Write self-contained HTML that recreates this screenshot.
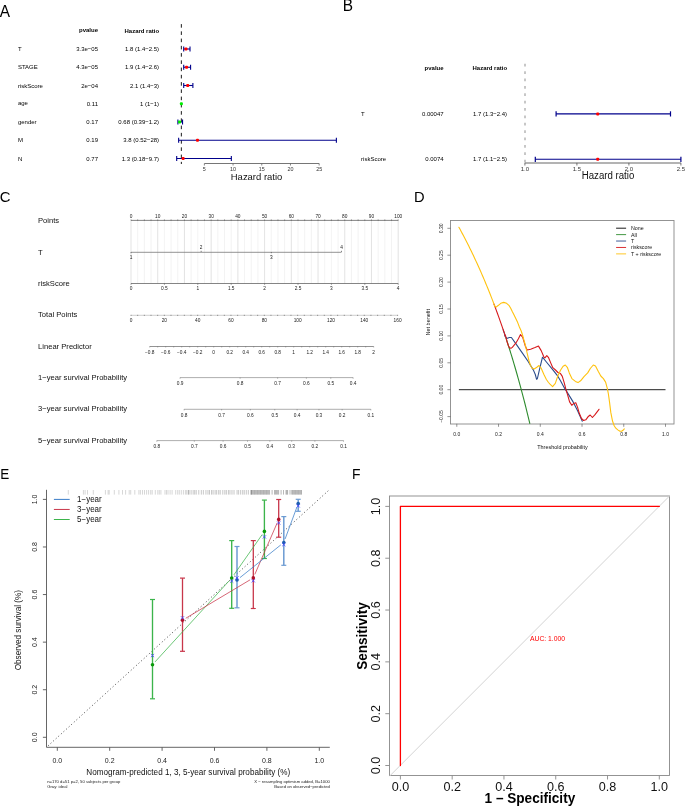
<!DOCTYPE html>
<html><head><meta charset="utf-8"><style>
html,body{margin:0;padding:0;background:#fff;}
svg{display:block;will-change:transform;font-family:"Liberation Sans",sans-serif;}
</style></head><body>
<svg width="685" height="806" viewBox="0 0 685 806">
<rect width="685" height="806" fill="#fff"/>
<text transform="translate(-0.2,16.8) scale(1,1.04)" font-size="15.4" fill="#000">A</text>
<text transform="translate(342.7,10.9) scale(1,1.04)" font-size="15.4" fill="#000">B</text>
<text transform="translate(-0.2,201.6) scale(1,1.04)" font-size="14.9" fill="#000">C</text>
<text transform="translate(413.9,201.7) scale(1,1.04)" font-size="14.7" fill="#000">D</text>
<text transform="translate(0.3,479.3) scale(1,1.04)" font-size="13.5" fill="#000">E</text>
<text transform="translate(351.9,479) scale(1,1.04)" font-size="13.9" fill="#000">F</text>
<text transform="translate(98,32.4) scale(1,1.04)" font-size="6" text-anchor="end" font-weight="bold" fill="#000">pvalue</text>
<text transform="translate(159.1,32.6) scale(1,1.04)" font-size="6" text-anchor="end" font-weight="bold" fill="#000">Hazard ratio</text>
<line x1="181.35" y1="24.1" x2="181.35" y2="164" stroke="#000" stroke-width="0.9" stroke-dasharray="3.6 3.65"/>
<text transform="translate(17.9,51.05) scale(1,1.04)" font-size="6" fill="#000">T</text>
<text transform="translate(98,51.05) scale(1,1.04)" font-size="6" text-anchor="end" fill="#000">3.3e−05</text>
<text transform="translate(159.1,51.05) scale(1,1.04)" font-size="6" text-anchor="end" fill="#000">1.8 (1.4−2.5)</text>
<line x1="183.7" y1="49" x2="190.01" y2="49" stroke="#00008B" stroke-width="1.1"/>
<line x1="183.7" y1="46.5" x2="183.7" y2="51.5" stroke="#00008B" stroke-width="1.1"/>
<line x1="190.01" y1="46.5" x2="190.01" y2="51.5" stroke="#00008B" stroke-width="1.1"/>
<rect x="184.49" y="47.5" width="3" height="3" rx="1" fill="#FF0000"/>
<text transform="translate(17.9,69.3) scale(1,1.04)" font-size="6" fill="#000">STAGE</text>
<text transform="translate(98,69.3) scale(1,1.04)" font-size="6" text-anchor="end" fill="#000">4.3e−05</text>
<text transform="translate(159.1,69.3) scale(1,1.04)" font-size="6" text-anchor="end" fill="#000">1.9 (1.4−2.6)</text>
<line x1="183.7" y1="67.25" x2="190.58" y2="67.25" stroke="#00008B" stroke-width="1.1"/>
<line x1="183.7" y1="64.75" x2="183.7" y2="69.75" stroke="#00008B" stroke-width="1.1"/>
<line x1="190.58" y1="64.75" x2="190.58" y2="69.75" stroke="#00008B" stroke-width="1.1"/>
<rect x="185.07" y="65.75" width="3" height="3" rx="1" fill="#FF0000"/>
<text transform="translate(17.9,87.55) scale(1,1.04)" font-size="6" fill="#000">riskScore</text>
<text transform="translate(98,87.55) scale(1,1.04)" font-size="6" text-anchor="end" fill="#000">2e−04</text>
<text transform="translate(159.1,87.55) scale(1,1.04)" font-size="6" text-anchor="end" fill="#000">2.1 (1.4−3)</text>
<line x1="183.7" y1="85.5" x2="192.88" y2="85.5" stroke="#00008B" stroke-width="1.1"/>
<line x1="183.7" y1="83" x2="183.7" y2="88" stroke="#00008B" stroke-width="1.1"/>
<line x1="192.88" y1="83" x2="192.88" y2="88" stroke="#00008B" stroke-width="1.1"/>
<rect x="186.21" y="84" width="3" height="3" rx="1" fill="#FF0000"/>
<text transform="translate(17.9,104.8) scale(1,1.04)" font-size="6" fill="#000">age</text>
<text transform="translate(98,105.8) scale(1,1.04)" font-size="6" text-anchor="end" fill="#000">0.11</text>
<text transform="translate(159.1,105.8) scale(1,1.04)" font-size="6" text-anchor="end" fill="#000">1 (1−1)</text>
<rect x="179.9" y="102.25" width="3" height="3" rx="1" fill="#00EE00"/>
<text transform="translate(17.9,123.55) scale(1,1.04)" font-size="6" fill="#000">gender</text>
<text transform="translate(98,124.05) scale(1,1.04)" font-size="6" text-anchor="end" fill="#000">0.17</text>
<text transform="translate(159.1,124.05) scale(1,1.04)" font-size="6" text-anchor="end" fill="#000">0.68 (0.39−1.2)</text>
<line x1="177.9" y1="122" x2="182.55" y2="122" stroke="#00008B" stroke-width="1.1"/>
<line x1="177.9" y1="119.5" x2="177.9" y2="124.5" stroke="#00008B" stroke-width="1.1"/>
<line x1="182.55" y1="119.5" x2="182.55" y2="124.5" stroke="#00008B" stroke-width="1.1"/>
<rect x="178.06" y="120.5" width="3" height="3" rx="1" fill="#00EE00"/>
<text transform="translate(17.9,142.3) scale(1,1.04)" font-size="6" fill="#000">M</text>
<text transform="translate(98,142.3) scale(1,1.04)" font-size="6" text-anchor="end" fill="#000">0.19</text>
<text transform="translate(159.1,142.3) scale(1,1.04)" font-size="6" text-anchor="end" fill="#000">3.8 (0.52−28)</text>
<line x1="178.64" y1="140.25" x2="336.38" y2="140.25" stroke="#00008B" stroke-width="1.1"/>
<line x1="178.64" y1="137.75" x2="178.64" y2="142.75" stroke="#00008B" stroke-width="1.1"/>
<line x1="336.38" y1="137.75" x2="336.38" y2="142.75" stroke="#00008B" stroke-width="1.1"/>
<rect x="195.97" y="138.75" width="3" height="3" rx="1" fill="#FF0000"/>
<text transform="translate(17.9,160.55) scale(1,1.04)" font-size="6" fill="#000">N</text>
<text transform="translate(98,160.55) scale(1,1.04)" font-size="6" text-anchor="end" fill="#000">0.77</text>
<text transform="translate(159.1,160.55) scale(1,1.04)" font-size="6" text-anchor="end" fill="#000">1.3 (0.18−9.7)</text>
<line x1="176.69" y1="158.5" x2="231.34" y2="158.5" stroke="#00008B" stroke-width="1.1"/>
<line x1="176.69" y1="156" x2="176.69" y2="161" stroke="#00008B" stroke-width="1.1"/>
<line x1="231.34" y1="156" x2="231.34" y2="161" stroke="#00008B" stroke-width="1.1"/>
<rect x="181.62" y="157" width="3" height="3" rx="1" fill="#FF0000"/>
<line x1="204.36" y1="163.5" x2="319.16" y2="163.5" stroke="#666" stroke-width="0.9"/>
<line x1="204.36" y1="163.5" x2="204.36" y2="165.5" stroke="#666" stroke-width="0.8"/>
<text transform="translate(204.36,171.3) scale(1,1.04)" font-size="5.4" text-anchor="middle" fill="#333">5</text>
<line x1="233.06" y1="163.5" x2="233.06" y2="165.5" stroke="#666" stroke-width="0.8"/>
<text transform="translate(233.06,171.3) scale(1,1.04)" font-size="5.4" text-anchor="middle" fill="#333">10</text>
<line x1="261.76" y1="163.5" x2="261.76" y2="165.5" stroke="#666" stroke-width="0.8"/>
<text transform="translate(261.76,171.3) scale(1,1.04)" font-size="5.4" text-anchor="middle" fill="#333">15</text>
<line x1="290.46" y1="163.5" x2="290.46" y2="165.5" stroke="#666" stroke-width="0.8"/>
<text transform="translate(290.46,171.3) scale(1,1.04)" font-size="5.4" text-anchor="middle" fill="#333">20</text>
<line x1="319.16" y1="163.5" x2="319.16" y2="165.5" stroke="#666" stroke-width="0.8"/>
<text transform="translate(319.16,171.3) scale(1,1.04)" font-size="5.4" text-anchor="middle" fill="#333">25</text>
<text transform="translate(230.8,179.6) scale(1,1.04)" font-size="9.46" fill="#111">Hazard ratio</text>
<text transform="translate(443.6,69.6) scale(1,1.04)" font-size="6" text-anchor="end" font-weight="bold" fill="#000">pvalue</text>
<text transform="translate(507.1,70) scale(1,1.04)" font-size="6" text-anchor="end" font-weight="bold" fill="#000">Hazard ratio</text>
<line x1="525" y1="63.8" x2="525" y2="162.5" stroke="#AAA" stroke-width="1.3" stroke-dasharray="2.7 4.68"/>
<text transform="translate(361.1,115.8) scale(1,1.04)" font-size="6" fill="#000">T</text>
<text transform="translate(443.6,115.8) scale(1,1.04)" font-size="6" text-anchor="end" fill="#000">0.00047</text>
<text transform="translate(507.1,115.8) scale(1,1.04)" font-size="6" text-anchor="end" fill="#000">1.7 (1.3−2.4)</text>
<line x1="556.1" y1="113.9" x2="670.5" y2="113.9" stroke="#00008B" stroke-width="1.1"/>
<line x1="556.1" y1="111.3" x2="556.1" y2="116.5" stroke="#00008B" stroke-width="1.2"/>
<line x1="670.5" y1="111.3" x2="670.5" y2="116.5" stroke="#00008B" stroke-width="1.2"/>
<rect x="596.2" y="112.4" width="3" height="3" rx="1" fill="#FF0000"/>
<text transform="translate(361.1,161.2) scale(1,1.04)" font-size="6" fill="#000">riskScore</text>
<text transform="translate(443.6,161.2) scale(1,1.04)" font-size="6" text-anchor="end" fill="#000">0.0074</text>
<text transform="translate(507.1,161.2) scale(1,1.04)" font-size="6" text-anchor="end" fill="#000">1.7 (1.1−2.5)</text>
<line x1="535.3" y1="159.3" x2="680.9" y2="159.3" stroke="#00008B" stroke-width="1.1"/>
<line x1="535.3" y1="156.7" x2="535.3" y2="161.9" stroke="#00008B" stroke-width="1.2"/>
<line x1="680.9" y1="156.7" x2="680.9" y2="161.9" stroke="#00008B" stroke-width="1.2"/>
<rect x="596.2" y="157.8" width="3" height="3" rx="1" fill="#FF0000"/>
<line x1="524.9" y1="162.9" x2="680.9" y2="162.9" stroke="#9A9A9A" stroke-width="1.5"/>
<line x1="524.9" y1="162.9" x2="524.9" y2="165.5" stroke="#555" stroke-width="0.8"/>
<text transform="translate(524.9,170.9) scale(1,1.04)" font-size="6" text-anchor="middle" fill="#333">1.0</text>
<line x1="576.9" y1="162.9" x2="576.9" y2="165.5" stroke="#555" stroke-width="0.8"/>
<text transform="translate(576.9,170.9) scale(1,1.04)" font-size="6" text-anchor="middle" fill="#333">1.5</text>
<line x1="628.9" y1="162.9" x2="628.9" y2="165.5" stroke="#555" stroke-width="0.8"/>
<text transform="translate(628.9,170.9) scale(1,1.04)" font-size="6" text-anchor="middle" fill="#333">2.0</text>
<line x1="680.9" y1="162.9" x2="680.9" y2="165.5" stroke="#555" stroke-width="0.8"/>
<text transform="translate(680.9,170.9) scale(1,1.04)" font-size="6" text-anchor="middle" fill="#333">2.5</text>
<text transform="translate(581.8,179.2) scale(1,1.04)" font-size="9.65" fill="#111">Hazard ratio</text>
<text transform="translate(38,223.4) scale(1,1.04)" font-size="7.62" fill="#111">Points</text>
<text transform="translate(38,254.7) scale(1,1.04)" font-size="7.62" fill="#111">T</text>
<text transform="translate(38,286) scale(1,1.04)" font-size="7.62" fill="#111">riskScore</text>
<text transform="translate(38,317.3) scale(1,1.04)" font-size="7.62" fill="#111">Total Points</text>
<text transform="translate(38,348.6) scale(1,1.04)" font-size="7.62" fill="#111">Linear Predictor</text>
<text transform="translate(38,379.9) scale(1,1.04)" font-size="7.62" fill="#111">1−year survival Probability</text>
<text transform="translate(38,411.2) scale(1,1.04)" font-size="7.62" fill="#111">3−year survival Probability</text>
<text transform="translate(38,442.5) scale(1,1.04)" font-size="7.62" fill="#111">5−year survival Probability</text>
<line x1="131" y1="220.4" x2="131" y2="283.5" stroke="#D0D0D0" stroke-width="0.6"/>
<line x1="137.68" y1="220.4" x2="137.68" y2="283.5" stroke="#EBEBEB" stroke-width="0.6"/>
<line x1="144.36" y1="220.4" x2="144.36" y2="283.5" stroke="#EBEBEB" stroke-width="0.6"/>
<line x1="151.04" y1="220.4" x2="151.04" y2="283.5" stroke="#EBEBEB" stroke-width="0.6"/>
<line x1="157.72" y1="220.4" x2="157.72" y2="283.5" stroke="#D0D0D0" stroke-width="0.6"/>
<line x1="164.4" y1="220.4" x2="164.4" y2="283.5" stroke="#EBEBEB" stroke-width="0.6"/>
<line x1="171.08" y1="220.4" x2="171.08" y2="283.5" stroke="#EBEBEB" stroke-width="0.6"/>
<line x1="177.76" y1="220.4" x2="177.76" y2="283.5" stroke="#EBEBEB" stroke-width="0.6"/>
<line x1="184.44" y1="220.4" x2="184.44" y2="283.5" stroke="#D0D0D0" stroke-width="0.6"/>
<line x1="191.12" y1="220.4" x2="191.12" y2="283.5" stroke="#EBEBEB" stroke-width="0.6"/>
<line x1="197.8" y1="220.4" x2="197.8" y2="283.5" stroke="#EBEBEB" stroke-width="0.6"/>
<line x1="204.48" y1="220.4" x2="204.48" y2="283.5" stroke="#EBEBEB" stroke-width="0.6"/>
<line x1="211.16" y1="220.4" x2="211.16" y2="283.5" stroke="#D0D0D0" stroke-width="0.6"/>
<line x1="217.84" y1="220.4" x2="217.84" y2="283.5" stroke="#EBEBEB" stroke-width="0.6"/>
<line x1="224.52" y1="220.4" x2="224.52" y2="283.5" stroke="#EBEBEB" stroke-width="0.6"/>
<line x1="231.2" y1="220.4" x2="231.2" y2="283.5" stroke="#EBEBEB" stroke-width="0.6"/>
<line x1="237.88" y1="220.4" x2="237.88" y2="283.5" stroke="#D0D0D0" stroke-width="0.6"/>
<line x1="244.56" y1="220.4" x2="244.56" y2="283.5" stroke="#EBEBEB" stroke-width="0.6"/>
<line x1="251.24" y1="220.4" x2="251.24" y2="283.5" stroke="#EBEBEB" stroke-width="0.6"/>
<line x1="257.92" y1="220.4" x2="257.92" y2="283.5" stroke="#EBEBEB" stroke-width="0.6"/>
<line x1="264.6" y1="220.4" x2="264.6" y2="283.5" stroke="#D0D0D0" stroke-width="0.6"/>
<line x1="271.28" y1="220.4" x2="271.28" y2="283.5" stroke="#EBEBEB" stroke-width="0.6"/>
<line x1="277.96" y1="220.4" x2="277.96" y2="283.5" stroke="#EBEBEB" stroke-width="0.6"/>
<line x1="284.64" y1="220.4" x2="284.64" y2="283.5" stroke="#EBEBEB" stroke-width="0.6"/>
<line x1="291.32" y1="220.4" x2="291.32" y2="283.5" stroke="#D0D0D0" stroke-width="0.6"/>
<line x1="298" y1="220.4" x2="298" y2="283.5" stroke="#EBEBEB" stroke-width="0.6"/>
<line x1="304.68" y1="220.4" x2="304.68" y2="283.5" stroke="#EBEBEB" stroke-width="0.6"/>
<line x1="311.36" y1="220.4" x2="311.36" y2="283.5" stroke="#EBEBEB" stroke-width="0.6"/>
<line x1="318.04" y1="220.4" x2="318.04" y2="283.5" stroke="#D0D0D0" stroke-width="0.6"/>
<line x1="324.72" y1="220.4" x2="324.72" y2="283.5" stroke="#EBEBEB" stroke-width="0.6"/>
<line x1="331.4" y1="220.4" x2="331.4" y2="283.5" stroke="#EBEBEB" stroke-width="0.6"/>
<line x1="338.08" y1="220.4" x2="338.08" y2="283.5" stroke="#EBEBEB" stroke-width="0.6"/>
<line x1="344.76" y1="220.4" x2="344.76" y2="283.5" stroke="#D0D0D0" stroke-width="0.6"/>
<line x1="351.44" y1="220.4" x2="351.44" y2="283.5" stroke="#EBEBEB" stroke-width="0.6"/>
<line x1="358.12" y1="220.4" x2="358.12" y2="283.5" stroke="#EBEBEB" stroke-width="0.6"/>
<line x1="364.8" y1="220.4" x2="364.8" y2="283.5" stroke="#EBEBEB" stroke-width="0.6"/>
<line x1="371.48" y1="220.4" x2="371.48" y2="283.5" stroke="#D0D0D0" stroke-width="0.6"/>
<line x1="378.16" y1="220.4" x2="378.16" y2="283.5" stroke="#EBEBEB" stroke-width="0.6"/>
<line x1="384.84" y1="220.4" x2="384.84" y2="283.5" stroke="#EBEBEB" stroke-width="0.6"/>
<line x1="391.52" y1="220.4" x2="391.52" y2="283.5" stroke="#EBEBEB" stroke-width="0.6"/>
<line x1="398.2" y1="220.4" x2="398.2" y2="283.5" stroke="#D0D0D0" stroke-width="0.6"/>
<line x1="131" y1="220.4" x2="398.2" y2="220.4" stroke="#666" stroke-width="0.8"/>
<line x1="131" y1="219.6" x2="131" y2="220.4" stroke="#444" stroke-width="0.8"/>
<line x1="137.68" y1="219.6" x2="137.68" y2="220.4" stroke="#444" stroke-width="0.8"/>
<line x1="144.36" y1="219.6" x2="144.36" y2="220.4" stroke="#444" stroke-width="0.8"/>
<line x1="151.04" y1="219.6" x2="151.04" y2="220.4" stroke="#444" stroke-width="0.8"/>
<line x1="157.72" y1="219.6" x2="157.72" y2="220.4" stroke="#444" stroke-width="0.8"/>
<line x1="164.4" y1="219.6" x2="164.4" y2="220.4" stroke="#444" stroke-width="0.8"/>
<line x1="171.08" y1="219.6" x2="171.08" y2="220.4" stroke="#444" stroke-width="0.8"/>
<line x1="177.76" y1="219.6" x2="177.76" y2="220.4" stroke="#444" stroke-width="0.8"/>
<line x1="184.44" y1="219.6" x2="184.44" y2="220.4" stroke="#444" stroke-width="0.8"/>
<line x1="191.12" y1="219.6" x2="191.12" y2="220.4" stroke="#444" stroke-width="0.8"/>
<line x1="197.8" y1="219.6" x2="197.8" y2="220.4" stroke="#444" stroke-width="0.8"/>
<line x1="204.48" y1="219.6" x2="204.48" y2="220.4" stroke="#444" stroke-width="0.8"/>
<line x1="211.16" y1="219.6" x2="211.16" y2="220.4" stroke="#444" stroke-width="0.8"/>
<line x1="217.84" y1="219.6" x2="217.84" y2="220.4" stroke="#444" stroke-width="0.8"/>
<line x1="224.52" y1="219.6" x2="224.52" y2="220.4" stroke="#444" stroke-width="0.8"/>
<line x1="231.2" y1="219.6" x2="231.2" y2="220.4" stroke="#444" stroke-width="0.8"/>
<line x1="237.88" y1="219.6" x2="237.88" y2="220.4" stroke="#444" stroke-width="0.8"/>
<line x1="244.56" y1="219.6" x2="244.56" y2="220.4" stroke="#444" stroke-width="0.8"/>
<line x1="251.24" y1="219.6" x2="251.24" y2="220.4" stroke="#444" stroke-width="0.8"/>
<line x1="257.92" y1="219.6" x2="257.92" y2="220.4" stroke="#444" stroke-width="0.8"/>
<line x1="264.6" y1="219.6" x2="264.6" y2="220.4" stroke="#444" stroke-width="0.8"/>
<line x1="271.28" y1="219.6" x2="271.28" y2="220.4" stroke="#444" stroke-width="0.8"/>
<line x1="277.96" y1="219.6" x2="277.96" y2="220.4" stroke="#444" stroke-width="0.8"/>
<line x1="284.64" y1="219.6" x2="284.64" y2="220.4" stroke="#444" stroke-width="0.8"/>
<line x1="291.32" y1="219.6" x2="291.32" y2="220.4" stroke="#444" stroke-width="0.8"/>
<line x1="298" y1="219.6" x2="298" y2="220.4" stroke="#444" stroke-width="0.8"/>
<line x1="304.68" y1="219.6" x2="304.68" y2="220.4" stroke="#444" stroke-width="0.8"/>
<line x1="311.36" y1="219.6" x2="311.36" y2="220.4" stroke="#444" stroke-width="0.8"/>
<line x1="318.04" y1="219.6" x2="318.04" y2="220.4" stroke="#444" stroke-width="0.8"/>
<line x1="324.72" y1="219.6" x2="324.72" y2="220.4" stroke="#444" stroke-width="0.8"/>
<line x1="331.4" y1="219.6" x2="331.4" y2="220.4" stroke="#444" stroke-width="0.8"/>
<line x1="338.08" y1="219.6" x2="338.08" y2="220.4" stroke="#444" stroke-width="0.8"/>
<line x1="344.76" y1="219.6" x2="344.76" y2="220.4" stroke="#444" stroke-width="0.8"/>
<line x1="351.44" y1="219.6" x2="351.44" y2="220.4" stroke="#444" stroke-width="0.8"/>
<line x1="358.12" y1="219.6" x2="358.12" y2="220.4" stroke="#444" stroke-width="0.8"/>
<line x1="364.8" y1="219.6" x2="364.8" y2="220.4" stroke="#444" stroke-width="0.8"/>
<line x1="371.48" y1="219.6" x2="371.48" y2="220.4" stroke="#444" stroke-width="0.8"/>
<line x1="378.16" y1="219.6" x2="378.16" y2="220.4" stroke="#444" stroke-width="0.8"/>
<line x1="384.84" y1="219.6" x2="384.84" y2="220.4" stroke="#444" stroke-width="0.8"/>
<line x1="391.52" y1="219.6" x2="391.52" y2="220.4" stroke="#444" stroke-width="0.8"/>
<line x1="398.2" y1="219.6" x2="398.2" y2="220.4" stroke="#444" stroke-width="0.8"/>
<text transform="translate(131,217.9) scale(1,1.04)" font-size="4.8" text-anchor="middle" fill="#222">0</text>
<text transform="translate(157.72,217.9) scale(1,1.04)" font-size="4.8" text-anchor="middle" fill="#222">10</text>
<text transform="translate(184.44,217.9) scale(1,1.04)" font-size="4.8" text-anchor="middle" fill="#222">20</text>
<text transform="translate(211.16,217.9) scale(1,1.04)" font-size="4.8" text-anchor="middle" fill="#222">30</text>
<text transform="translate(237.88,217.9) scale(1,1.04)" font-size="4.8" text-anchor="middle" fill="#222">40</text>
<text transform="translate(264.6,217.9) scale(1,1.04)" font-size="4.8" text-anchor="middle" fill="#222">50</text>
<text transform="translate(291.32,217.9) scale(1,1.04)" font-size="4.8" text-anchor="middle" fill="#222">60</text>
<text transform="translate(318.04,217.9) scale(1,1.04)" font-size="4.8" text-anchor="middle" fill="#222">70</text>
<text transform="translate(344.76,217.9) scale(1,1.04)" font-size="4.8" text-anchor="middle" fill="#222">80</text>
<text transform="translate(371.48,217.9) scale(1,1.04)" font-size="4.8" text-anchor="middle" fill="#222">90</text>
<text transform="translate(398.2,217.9) scale(1,1.04)" font-size="4.8" text-anchor="middle" fill="#222">100</text>
<line x1="131" y1="252.3" x2="341.51" y2="252.3" stroke="#777" stroke-width="0.8"/>
<line x1="131" y1="252" x2="131" y2="253.2" stroke="#555" stroke-width="0.7"/>
<text transform="translate(131,258.6) scale(1,1.04)" font-size="4.8" text-anchor="middle" fill="#222">1</text>
<line x1="201.17" y1="252" x2="201.17" y2="250.8" stroke="#555" stroke-width="0.7"/>
<text transform="translate(201.17,248.9) scale(1,1.04)" font-size="4.8" text-anchor="middle" fill="#222">2</text>
<line x1="271.34" y1="252" x2="271.34" y2="253.2" stroke="#555" stroke-width="0.7"/>
<text transform="translate(271.34,258.6) scale(1,1.04)" font-size="4.8" text-anchor="middle" fill="#222">3</text>
<line x1="341.51" y1="252" x2="341.51" y2="250.8" stroke="#555" stroke-width="0.7"/>
<text transform="translate(341.51,248.9) scale(1,1.04)" font-size="4.8" text-anchor="middle" fill="#222">4</text>
<line x1="131" y1="283.5" x2="398.2" y2="283.5" stroke="#666" stroke-width="0.8"/>
<line x1="131" y1="283.5" x2="131" y2="284.7" stroke="#555" stroke-width="0.7"/>
<text transform="translate(131,290.2) scale(1,1.04)" font-size="4.8" text-anchor="middle" fill="#222">0</text>
<line x1="164.4" y1="283.5" x2="164.4" y2="284.7" stroke="#555" stroke-width="0.7"/>
<text transform="translate(164.4,290.2) scale(1,1.04)" font-size="4.8" text-anchor="middle" fill="#222">0.5</text>
<line x1="197.8" y1="283.5" x2="197.8" y2="284.7" stroke="#555" stroke-width="0.7"/>
<text transform="translate(197.8,290.2) scale(1,1.04)" font-size="4.8" text-anchor="middle" fill="#222">1</text>
<line x1="231.2" y1="283.5" x2="231.2" y2="284.7" stroke="#555" stroke-width="0.7"/>
<text transform="translate(231.2,290.2) scale(1,1.04)" font-size="4.8" text-anchor="middle" fill="#222">1.5</text>
<line x1="264.6" y1="283.5" x2="264.6" y2="284.7" stroke="#555" stroke-width="0.7"/>
<text transform="translate(264.6,290.2) scale(1,1.04)" font-size="4.8" text-anchor="middle" fill="#222">2</text>
<line x1="298" y1="283.5" x2="298" y2="284.7" stroke="#555" stroke-width="0.7"/>
<text transform="translate(298,290.2) scale(1,1.04)" font-size="4.8" text-anchor="middle" fill="#222">2.5</text>
<line x1="331.4" y1="283.5" x2="331.4" y2="284.7" stroke="#555" stroke-width="0.7"/>
<text transform="translate(331.4,290.2) scale(1,1.04)" font-size="4.8" text-anchor="middle" fill="#222">3</text>
<line x1="364.8" y1="283.5" x2="364.8" y2="284.7" stroke="#555" stroke-width="0.7"/>
<text transform="translate(364.8,290.2) scale(1,1.04)" font-size="4.8" text-anchor="middle" fill="#222">3.5</text>
<line x1="398.2" y1="283.5" x2="398.2" y2="284.7" stroke="#555" stroke-width="0.7"/>
<text transform="translate(398.2,290.2) scale(1,1.04)" font-size="4.8" text-anchor="middle" fill="#222">4</text>
<line x1="131" y1="315.3" x2="397.6" y2="315.3" stroke="#D8D8D8" stroke-width="1.3"/>
<line x1="131" y1="314.8" x2="131" y2="315.9" stroke="#777" stroke-width="0.8"/>
<line x1="137.66" y1="314.8" x2="137.66" y2="315.9" stroke="#777" stroke-width="0.8"/>
<line x1="144.33" y1="314.8" x2="144.33" y2="315.9" stroke="#777" stroke-width="0.8"/>
<line x1="151" y1="314.8" x2="151" y2="315.9" stroke="#777" stroke-width="0.8"/>
<line x1="157.66" y1="314.8" x2="157.66" y2="315.9" stroke="#777" stroke-width="0.8"/>
<line x1="164.32" y1="314.8" x2="164.32" y2="315.9" stroke="#777" stroke-width="0.8"/>
<line x1="170.99" y1="314.8" x2="170.99" y2="315.9" stroke="#777" stroke-width="0.8"/>
<line x1="177.66" y1="314.8" x2="177.66" y2="315.9" stroke="#777" stroke-width="0.8"/>
<line x1="184.32" y1="314.8" x2="184.32" y2="315.9" stroke="#777" stroke-width="0.8"/>
<line x1="190.99" y1="314.8" x2="190.99" y2="315.9" stroke="#777" stroke-width="0.8"/>
<line x1="197.65" y1="314.8" x2="197.65" y2="315.9" stroke="#777" stroke-width="0.8"/>
<line x1="204.31" y1="314.8" x2="204.31" y2="315.9" stroke="#777" stroke-width="0.8"/>
<line x1="210.98" y1="314.8" x2="210.98" y2="315.9" stroke="#777" stroke-width="0.8"/>
<line x1="217.65" y1="314.8" x2="217.65" y2="315.9" stroke="#777" stroke-width="0.8"/>
<line x1="224.31" y1="314.8" x2="224.31" y2="315.9" stroke="#777" stroke-width="0.8"/>
<line x1="230.98" y1="314.8" x2="230.98" y2="315.9" stroke="#777" stroke-width="0.8"/>
<line x1="237.64" y1="314.8" x2="237.64" y2="315.9" stroke="#777" stroke-width="0.8"/>
<line x1="244.31" y1="314.8" x2="244.31" y2="315.9" stroke="#777" stroke-width="0.8"/>
<line x1="250.97" y1="314.8" x2="250.97" y2="315.9" stroke="#777" stroke-width="0.8"/>
<line x1="257.63" y1="314.8" x2="257.63" y2="315.9" stroke="#777" stroke-width="0.8"/>
<line x1="264.3" y1="314.8" x2="264.3" y2="315.9" stroke="#777" stroke-width="0.8"/>
<line x1="270.97" y1="314.8" x2="270.97" y2="315.9" stroke="#777" stroke-width="0.8"/>
<line x1="277.63" y1="314.8" x2="277.63" y2="315.9" stroke="#777" stroke-width="0.8"/>
<line x1="284.3" y1="314.8" x2="284.3" y2="315.9" stroke="#777" stroke-width="0.8"/>
<line x1="290.96" y1="314.8" x2="290.96" y2="315.9" stroke="#777" stroke-width="0.8"/>
<line x1="297.62" y1="314.8" x2="297.62" y2="315.9" stroke="#777" stroke-width="0.8"/>
<line x1="304.29" y1="314.8" x2="304.29" y2="315.9" stroke="#777" stroke-width="0.8"/>
<line x1="310.96" y1="314.8" x2="310.96" y2="315.9" stroke="#777" stroke-width="0.8"/>
<line x1="317.62" y1="314.8" x2="317.62" y2="315.9" stroke="#777" stroke-width="0.8"/>
<line x1="324.29" y1="314.8" x2="324.29" y2="315.9" stroke="#777" stroke-width="0.8"/>
<line x1="330.95" y1="314.8" x2="330.95" y2="315.9" stroke="#777" stroke-width="0.8"/>
<line x1="337.62" y1="314.8" x2="337.62" y2="315.9" stroke="#777" stroke-width="0.8"/>
<line x1="344.28" y1="314.8" x2="344.28" y2="315.9" stroke="#777" stroke-width="0.8"/>
<line x1="350.95" y1="314.8" x2="350.95" y2="315.9" stroke="#777" stroke-width="0.8"/>
<line x1="357.61" y1="314.8" x2="357.61" y2="315.9" stroke="#777" stroke-width="0.8"/>
<line x1="364.27" y1="314.8" x2="364.27" y2="315.9" stroke="#777" stroke-width="0.8"/>
<line x1="370.94" y1="314.8" x2="370.94" y2="315.9" stroke="#777" stroke-width="0.8"/>
<line x1="377.61" y1="314.8" x2="377.61" y2="315.9" stroke="#777" stroke-width="0.8"/>
<line x1="384.27" y1="314.8" x2="384.27" y2="315.9" stroke="#777" stroke-width="0.8"/>
<line x1="390.94" y1="314.8" x2="390.94" y2="315.9" stroke="#777" stroke-width="0.8"/>
<line x1="397.6" y1="314.8" x2="397.6" y2="315.9" stroke="#777" stroke-width="0.8"/>
<text transform="translate(131,321.9) scale(1,1.04)" font-size="4.8" text-anchor="middle" fill="#222">0</text>
<text transform="translate(164.32,321.9) scale(1,1.04)" font-size="4.8" text-anchor="middle" fill="#222">20</text>
<text transform="translate(197.65,321.9) scale(1,1.04)" font-size="4.8" text-anchor="middle" fill="#222">40</text>
<text transform="translate(230.98,321.9) scale(1,1.04)" font-size="4.8" text-anchor="middle" fill="#222">60</text>
<text transform="translate(264.3,321.9) scale(1,1.04)" font-size="4.8" text-anchor="middle" fill="#222">80</text>
<text transform="translate(297.62,321.9) scale(1,1.04)" font-size="4.8" text-anchor="middle" fill="#222">100</text>
<text transform="translate(330.95,321.9) scale(1,1.04)" font-size="4.8" text-anchor="middle" fill="#222">120</text>
<text transform="translate(364.27,321.9) scale(1,1.04)" font-size="4.8" text-anchor="middle" fill="#222">140</text>
<text transform="translate(397.6,321.9) scale(1,1.04)" font-size="4.8" text-anchor="middle" fill="#222">160</text>
<line x1="149.7" y1="346.5" x2="373.7" y2="346.5" stroke="#777" stroke-width="0.8"/>
<line x1="149.7" y1="346.5" x2="149.7" y2="347.4" stroke="#666" stroke-width="0.6"/>
<line x1="157.7" y1="346.5" x2="157.7" y2="347.4" stroke="#666" stroke-width="0.6"/>
<line x1="165.7" y1="346.5" x2="165.7" y2="347.4" stroke="#666" stroke-width="0.6"/>
<line x1="173.7" y1="346.5" x2="173.7" y2="347.4" stroke="#666" stroke-width="0.6"/>
<line x1="181.7" y1="346.5" x2="181.7" y2="347.4" stroke="#666" stroke-width="0.6"/>
<line x1="189.7" y1="346.5" x2="189.7" y2="347.4" stroke="#666" stroke-width="0.6"/>
<line x1="197.7" y1="346.5" x2="197.7" y2="347.4" stroke="#666" stroke-width="0.6"/>
<line x1="205.7" y1="346.5" x2="205.7" y2="347.4" stroke="#666" stroke-width="0.6"/>
<line x1="213.7" y1="346.5" x2="213.7" y2="347.4" stroke="#666" stroke-width="0.6"/>
<line x1="221.7" y1="346.5" x2="221.7" y2="347.4" stroke="#666" stroke-width="0.6"/>
<line x1="229.7" y1="346.5" x2="229.7" y2="347.4" stroke="#666" stroke-width="0.6"/>
<line x1="237.7" y1="346.5" x2="237.7" y2="347.4" stroke="#666" stroke-width="0.6"/>
<line x1="245.7" y1="346.5" x2="245.7" y2="347.4" stroke="#666" stroke-width="0.6"/>
<line x1="253.7" y1="346.5" x2="253.7" y2="347.4" stroke="#666" stroke-width="0.6"/>
<line x1="261.7" y1="346.5" x2="261.7" y2="347.4" stroke="#666" stroke-width="0.6"/>
<line x1="269.7" y1="346.5" x2="269.7" y2="347.4" stroke="#666" stroke-width="0.6"/>
<line x1="277.7" y1="346.5" x2="277.7" y2="347.4" stroke="#666" stroke-width="0.6"/>
<line x1="285.7" y1="346.5" x2="285.7" y2="347.4" stroke="#666" stroke-width="0.6"/>
<line x1="293.7" y1="346.5" x2="293.7" y2="347.4" stroke="#666" stroke-width="0.6"/>
<line x1="301.7" y1="346.5" x2="301.7" y2="347.4" stroke="#666" stroke-width="0.6"/>
<line x1="309.7" y1="346.5" x2="309.7" y2="347.4" stroke="#666" stroke-width="0.6"/>
<line x1="317.7" y1="346.5" x2="317.7" y2="347.4" stroke="#666" stroke-width="0.6"/>
<line x1="325.7" y1="346.5" x2="325.7" y2="347.4" stroke="#666" stroke-width="0.6"/>
<line x1="333.7" y1="346.5" x2="333.7" y2="347.4" stroke="#666" stroke-width="0.6"/>
<line x1="341.7" y1="346.5" x2="341.7" y2="347.4" stroke="#666" stroke-width="0.6"/>
<line x1="349.7" y1="346.5" x2="349.7" y2="347.4" stroke="#666" stroke-width="0.6"/>
<line x1="357.7" y1="346.5" x2="357.7" y2="347.4" stroke="#666" stroke-width="0.6"/>
<line x1="365.7" y1="346.5" x2="365.7" y2="347.4" stroke="#666" stroke-width="0.6"/>
<line x1="373.7" y1="346.5" x2="373.7" y2="347.4" stroke="#666" stroke-width="0.6"/>
<text transform="translate(149.7,353.6) scale(1,1.04)" font-size="4.8" text-anchor="middle" fill="#222">−0.8</text>
<text transform="translate(165.7,353.6) scale(1,1.04)" font-size="4.8" text-anchor="middle" fill="#222">−0.6</text>
<text transform="translate(181.7,353.6) scale(1,1.04)" font-size="4.8" text-anchor="middle" fill="#222">−0.4</text>
<text transform="translate(197.7,353.6) scale(1,1.04)" font-size="4.8" text-anchor="middle" fill="#222">−0.2</text>
<text transform="translate(213.7,353.6) scale(1,1.04)" font-size="4.8" text-anchor="middle" fill="#222">0</text>
<text transform="translate(229.7,353.6) scale(1,1.04)" font-size="4.8" text-anchor="middle" fill="#222">0.2</text>
<text transform="translate(245.7,353.6) scale(1,1.04)" font-size="4.8" text-anchor="middle" fill="#222">0.4</text>
<text transform="translate(261.7,353.6) scale(1,1.04)" font-size="4.8" text-anchor="middle" fill="#222">0.6</text>
<text transform="translate(277.7,353.6) scale(1,1.04)" font-size="4.8" text-anchor="middle" fill="#222">0.8</text>
<text transform="translate(293.7,353.6) scale(1,1.04)" font-size="4.8" text-anchor="middle" fill="#222">1</text>
<text transform="translate(309.7,353.6) scale(1,1.04)" font-size="4.8" text-anchor="middle" fill="#222">1.2</text>
<text transform="translate(325.7,353.6) scale(1,1.04)" font-size="4.8" text-anchor="middle" fill="#222">1.4</text>
<text transform="translate(341.7,353.6) scale(1,1.04)" font-size="4.8" text-anchor="middle" fill="#222">1.6</text>
<text transform="translate(357.7,353.6) scale(1,1.04)" font-size="4.8" text-anchor="middle" fill="#222">1.8</text>
<text transform="translate(373.7,353.6) scale(1,1.04)" font-size="4.8" text-anchor="middle" fill="#222">2</text>
<line x1="180.07" y1="377.6" x2="353.11" y2="377.6" stroke="#999" stroke-width="0.8"/>
<line x1="180.07" y1="377.6" x2="180.07" y2="378.6" stroke="#666" stroke-width="0.6"/>
<text transform="translate(180.07,384.8) scale(1,1.04)" font-size="4.8" text-anchor="middle" fill="#222">0.9</text>
<line x1="240.1" y1="377.6" x2="240.1" y2="378.6" stroke="#666" stroke-width="0.6"/>
<text transform="translate(240.1,384.8) scale(1,1.04)" font-size="4.8" text-anchor="middle" fill="#222">0.8</text>
<line x1="277.63" y1="377.6" x2="277.63" y2="378.6" stroke="#666" stroke-width="0.6"/>
<text transform="translate(277.63,384.8) scale(1,1.04)" font-size="4.8" text-anchor="middle" fill="#222">0.7</text>
<line x1="306.36" y1="377.6" x2="306.36" y2="378.6" stroke="#666" stroke-width="0.6"/>
<text transform="translate(306.36,384.8) scale(1,1.04)" font-size="4.8" text-anchor="middle" fill="#222">0.6</text>
<line x1="330.78" y1="377.6" x2="330.78" y2="378.6" stroke="#666" stroke-width="0.6"/>
<text transform="translate(330.78,384.8) scale(1,1.04)" font-size="4.8" text-anchor="middle" fill="#222">0.5</text>
<line x1="353.11" y1="377.6" x2="353.11" y2="378.6" stroke="#666" stroke-width="0.6"/>
<text transform="translate(353.11,384.8) scale(1,1.04)" font-size="4.8" text-anchor="middle" fill="#222">0.4</text>
<line x1="184.1" y1="409.3" x2="370.82" y2="409.3" stroke="#999" stroke-width="0.8"/>
<line x1="184.1" y1="409.3" x2="184.1" y2="410.3" stroke="#666" stroke-width="0.6"/>
<text transform="translate(184.1,416.5) scale(1,1.04)" font-size="4.8" text-anchor="middle" fill="#222">0.8</text>
<line x1="221.63" y1="409.3" x2="221.63" y2="410.3" stroke="#666" stroke-width="0.6"/>
<text transform="translate(221.63,416.5) scale(1,1.04)" font-size="4.8" text-anchor="middle" fill="#222">0.7</text>
<line x1="250.36" y1="409.3" x2="250.36" y2="410.3" stroke="#666" stroke-width="0.6"/>
<text transform="translate(250.36,416.5) scale(1,1.04)" font-size="4.8" text-anchor="middle" fill="#222">0.6</text>
<line x1="274.78" y1="409.3" x2="274.78" y2="410.3" stroke="#666" stroke-width="0.6"/>
<text transform="translate(274.78,416.5) scale(1,1.04)" font-size="4.8" text-anchor="middle" fill="#222">0.5</text>
<line x1="297.11" y1="409.3" x2="297.11" y2="410.3" stroke="#666" stroke-width="0.6"/>
<text transform="translate(297.11,416.5) scale(1,1.04)" font-size="4.8" text-anchor="middle" fill="#222">0.4</text>
<line x1="318.95" y1="409.3" x2="318.95" y2="410.3" stroke="#666" stroke-width="0.6"/>
<text transform="translate(318.95,416.5) scale(1,1.04)" font-size="4.8" text-anchor="middle" fill="#222">0.3</text>
<line x1="342.17" y1="409.3" x2="342.17" y2="410.3" stroke="#666" stroke-width="0.6"/>
<text transform="translate(342.17,416.5) scale(1,1.04)" font-size="4.8" text-anchor="middle" fill="#222">0.2</text>
<line x1="370.82" y1="409.3" x2="370.82" y2="410.3" stroke="#666" stroke-width="0.6"/>
<text transform="translate(370.82,416.5) scale(1,1.04)" font-size="4.8" text-anchor="middle" fill="#222">0.1</text>
<line x1="156.82" y1="440.6" x2="343.54" y2="440.6" stroke="#999" stroke-width="0.8"/>
<line x1="156.82" y1="440.6" x2="156.82" y2="441.6" stroke="#666" stroke-width="0.6"/>
<text transform="translate(156.82,447.8) scale(1,1.04)" font-size="4.8" text-anchor="middle" fill="#222">0.8</text>
<line x1="194.35" y1="440.6" x2="194.35" y2="441.6" stroke="#666" stroke-width="0.6"/>
<text transform="translate(194.35,447.8) scale(1,1.04)" font-size="4.8" text-anchor="middle" fill="#222">0.7</text>
<line x1="223.08" y1="440.6" x2="223.08" y2="441.6" stroke="#666" stroke-width="0.6"/>
<text transform="translate(223.08,447.8) scale(1,1.04)" font-size="4.8" text-anchor="middle" fill="#222">0.6</text>
<line x1="247.5" y1="440.6" x2="247.5" y2="441.6" stroke="#666" stroke-width="0.6"/>
<text transform="translate(247.5,447.8) scale(1,1.04)" font-size="4.8" text-anchor="middle" fill="#222">0.5</text>
<line x1="269.83" y1="440.6" x2="269.83" y2="441.6" stroke="#666" stroke-width="0.6"/>
<text transform="translate(269.83,447.8) scale(1,1.04)" font-size="4.8" text-anchor="middle" fill="#222">0.4</text>
<line x1="291.67" y1="440.6" x2="291.67" y2="441.6" stroke="#666" stroke-width="0.6"/>
<text transform="translate(291.67,447.8) scale(1,1.04)" font-size="4.8" text-anchor="middle" fill="#222">0.3</text>
<line x1="314.89" y1="440.6" x2="314.89" y2="441.6" stroke="#666" stroke-width="0.6"/>
<text transform="translate(314.89,447.8) scale(1,1.04)" font-size="4.8" text-anchor="middle" fill="#222">0.2</text>
<line x1="343.54" y1="440.6" x2="343.54" y2="441.6" stroke="#666" stroke-width="0.6"/>
<text transform="translate(343.54,447.8) scale(1,1.04)" font-size="4.8" text-anchor="middle" fill="#222">0.1</text>
<rect x="450.5" y="220.5" width="223.5" height="203.5" fill="none" stroke="#888" stroke-width="0.9"/>
<line x1="447.4" y1="416.6" x2="450.7" y2="416.6" stroke="#666" stroke-width="0.7"/>
<text transform="translate(443.2,416.6) rotate(-90) scale(1,1.04)" font-size="5" text-anchor="middle" fill="#222">−0.05</text>
<line x1="447.4" y1="389.7" x2="450.7" y2="389.7" stroke="#666" stroke-width="0.7"/>
<text transform="translate(443.2,389.7) rotate(-90) scale(1,1.04)" font-size="5" text-anchor="middle" fill="#222">0.00</text>
<line x1="447.4" y1="362.8" x2="450.7" y2="362.8" stroke="#666" stroke-width="0.7"/>
<text transform="translate(443.2,362.8) rotate(-90) scale(1,1.04)" font-size="5" text-anchor="middle" fill="#222">0.05</text>
<line x1="447.4" y1="335.9" x2="450.7" y2="335.9" stroke="#666" stroke-width="0.7"/>
<text transform="translate(443.2,335.9) rotate(-90) scale(1,1.04)" font-size="5" text-anchor="middle" fill="#222">0.10</text>
<line x1="447.4" y1="309" x2="450.7" y2="309" stroke="#666" stroke-width="0.7"/>
<text transform="translate(443.2,309) rotate(-90) scale(1,1.04)" font-size="5" text-anchor="middle" fill="#222">0.15</text>
<line x1="447.4" y1="282.1" x2="450.7" y2="282.1" stroke="#666" stroke-width="0.7"/>
<text transform="translate(443.2,282.1) rotate(-90) scale(1,1.04)" font-size="5" text-anchor="middle" fill="#222">0.20</text>
<line x1="447.4" y1="255.2" x2="450.7" y2="255.2" stroke="#666" stroke-width="0.7"/>
<text transform="translate(443.2,255.2) rotate(-90) scale(1,1.04)" font-size="5" text-anchor="middle" fill="#222">0.25</text>
<line x1="447.4" y1="228.3" x2="450.7" y2="228.3" stroke="#666" stroke-width="0.7"/>
<text transform="translate(443.2,228.3) rotate(-90) scale(1,1.04)" font-size="5" text-anchor="middle" fill="#222">0.30</text>
<line x1="456.8" y1="423.8" x2="456.8" y2="426.8" stroke="#666" stroke-width="0.7"/>
<text transform="translate(456.8,436) scale(1,1.04)" font-size="5" text-anchor="middle" fill="#222">0.0</text>
<line x1="498.54" y1="423.8" x2="498.54" y2="426.8" stroke="#666" stroke-width="0.7"/>
<text transform="translate(498.54,436) scale(1,1.04)" font-size="5" text-anchor="middle" fill="#222">0.2</text>
<line x1="540.28" y1="423.8" x2="540.28" y2="426.8" stroke="#666" stroke-width="0.7"/>
<text transform="translate(540.28,436) scale(1,1.04)" font-size="5" text-anchor="middle" fill="#222">0.4</text>
<line x1="582.02" y1="423.8" x2="582.02" y2="426.8" stroke="#666" stroke-width="0.7"/>
<text transform="translate(582.02,436) scale(1,1.04)" font-size="5" text-anchor="middle" fill="#222">0.6</text>
<line x1="623.76" y1="423.8" x2="623.76" y2="426.8" stroke="#666" stroke-width="0.7"/>
<text transform="translate(623.76,436) scale(1,1.04)" font-size="5" text-anchor="middle" fill="#222">0.8</text>
<line x1="665.5" y1="423.8" x2="665.5" y2="426.8" stroke="#666" stroke-width="0.7"/>
<text transform="translate(665.5,436) scale(1,1.04)" font-size="5" text-anchor="middle" fill="#222">1.0</text>
<text transform="translate(562.5,449.3) scale(1,1.04)" font-size="5.45" text-anchor="middle" fill="#111">Threshold probability</text>
<text transform="translate(430.2,322.2) rotate(-90) scale(1,1.04)" font-size="5.5" text-anchor="middle" fill="#111">Net benefit</text>
<line x1="616.1" y1="228.2" x2="626.1" y2="228.2" stroke="#000000" stroke-width="0.9"/>
<text transform="translate(631,230.1) scale(1,1.04)" font-size="5.3" fill="#111">None</text>
<line x1="616.1" y1="234.62" x2="626.1" y2="234.62" stroke="#2E8B2E" stroke-width="0.9"/>
<text transform="translate(631,236.52) scale(1,1.04)" font-size="5.3" fill="#111">All</text>
<line x1="616.1" y1="241.04" x2="626.1" y2="241.04" stroke="#2B4C8C" stroke-width="0.9"/>
<text transform="translate(631,242.94) scale(1,1.04)" font-size="5.3" fill="#111">T</text>
<line x1="616.1" y1="247.46" x2="626.1" y2="247.46" stroke="#D7191C" stroke-width="0.9"/>
<text transform="translate(631,249.36) scale(1,1.04)" font-size="5.3" fill="#111">riskscore</text>
<line x1="616.1" y1="253.88" x2="626.1" y2="253.88" stroke="#FFC20E" stroke-width="0.9"/>
<text transform="translate(631,255.78) scale(1,1.04)" font-size="5.3" fill="#111">T + riskscore</text>
<line x1="46.5" y1="489.8" x2="46.5" y2="747.3" stroke="#555" stroke-width="0.9"/>
<line x1="46.5" y1="747.3" x2="329.8" y2="747.3" stroke="#555" stroke-width="0.9"/>
<line x1="42.9" y1="737.3" x2="46.5" y2="737.3" stroke="#555" stroke-width="0.9"/>
<text transform="translate(37.2,737.3) rotate(-90) scale(1,1.04)" font-size="7" text-anchor="middle" fill="#222">0.0</text>
<line x1="57.3" y1="747.3" x2="57.3" y2="750.8" stroke="#555" stroke-width="0.9"/>
<text transform="translate(57.3,762.6) scale(1,1.04)" font-size="7" text-anchor="middle" fill="#222">0.0</text>
<line x1="42.9" y1="689.72" x2="46.5" y2="689.72" stroke="#555" stroke-width="0.9"/>
<text transform="translate(37.2,689.72) rotate(-90) scale(1,1.04)" font-size="7" text-anchor="middle" fill="#222">0.2</text>
<line x1="109.7" y1="747.3" x2="109.7" y2="750.8" stroke="#555" stroke-width="0.9"/>
<text transform="translate(109.7,762.6) scale(1,1.04)" font-size="7" text-anchor="middle" fill="#222">0.2</text>
<line x1="42.9" y1="642.14" x2="46.5" y2="642.14" stroke="#555" stroke-width="0.9"/>
<text transform="translate(37.2,642.14) rotate(-90) scale(1,1.04)" font-size="7" text-anchor="middle" fill="#222">0.4</text>
<line x1="162.1" y1="747.3" x2="162.1" y2="750.8" stroke="#555" stroke-width="0.9"/>
<text transform="translate(162.1,762.6) scale(1,1.04)" font-size="7" text-anchor="middle" fill="#222">0.4</text>
<line x1="42.9" y1="594.56" x2="46.5" y2="594.56" stroke="#555" stroke-width="0.9"/>
<text transform="translate(37.2,594.56) rotate(-90) scale(1,1.04)" font-size="7" text-anchor="middle" fill="#222">0.6</text>
<line x1="214.5" y1="747.3" x2="214.5" y2="750.8" stroke="#555" stroke-width="0.9"/>
<text transform="translate(214.5,762.6) scale(1,1.04)" font-size="7" text-anchor="middle" fill="#222">0.6</text>
<line x1="42.9" y1="546.98" x2="46.5" y2="546.98" stroke="#555" stroke-width="0.9"/>
<text transform="translate(37.2,546.98) rotate(-90) scale(1,1.04)" font-size="7" text-anchor="middle" fill="#222">0.8</text>
<line x1="266.9" y1="747.3" x2="266.9" y2="750.8" stroke="#555" stroke-width="0.9"/>
<text transform="translate(266.9,762.6) scale(1,1.04)" font-size="7" text-anchor="middle" fill="#222">0.8</text>
<line x1="42.9" y1="499.4" x2="46.5" y2="499.4" stroke="#555" stroke-width="0.9"/>
<text transform="translate(37.2,499.4) rotate(-90) scale(1,1.04)" font-size="7" text-anchor="middle" fill="#222">1.0</text>
<line x1="319.3" y1="747.3" x2="319.3" y2="750.8" stroke="#555" stroke-width="0.9"/>
<text transform="translate(319.3,762.6) scale(1,1.04)" font-size="7" text-anchor="middle" fill="#222">1.0</text>
<text transform="translate(188.2,775.4) scale(1,1.04)" font-size="8.14" text-anchor="middle" fill="#111">Nomogram-predicted 1, 3, 5-year survival probability (%)</text>
<text transform="translate(21.3,630.2) rotate(-90) scale(1,1.04)" font-size="8.18" text-anchor="middle" fill="#111">Observed survival (%)</text>
<text transform="translate(47.2,782.5) scale(1,1.04)" font-size="4.2" fill="#222">n=170 d=51 p=2, 50 subjects per group</text>
<text transform="translate(47.2,787.6) scale(1,1.04)" font-size="4.2" fill="#222">Gray: ideal</text>
<text transform="translate(329.8,782.5) scale(1,1.04)" font-size="4.2" text-anchor="end" fill="#222">X − resampling optimism added, B=1000</text>
<text transform="translate(329.8,787.6) scale(1,1.04)" font-size="4.2" text-anchor="end" fill="#222">Based on observed−predicted</text>
<line x1="48" y1="745.9" x2="329.2" y2="489.9" stroke="#333" stroke-width="0.9" stroke-dasharray="1 2.5"/>
<line x1="53.9" y1="499.4" x2="69.7" y2="499.4" stroke="#3A7DC8" stroke-width="1"/>
<text transform="translate(77.1,502.3) scale(1,1.04)" font-size="7.95" fill="#111">1−year</text>
<line x1="53.9" y1="509.45" x2="69.7" y2="509.45" stroke="#C8364A" stroke-width="1"/>
<text transform="translate(77.1,512.35) scale(1,1.04)" font-size="7.95" fill="#111">3−year</text>
<line x1="53.9" y1="519.5" x2="69.7" y2="519.5" stroke="#3CB44B" stroke-width="1"/>
<text transform="translate(77.1,522.4) scale(1,1.04)" font-size="7.95" fill="#111">5−year</text>
<rect x="389.5" y="496" width="280" height="279.5" fill="none" stroke="#888" stroke-width="0.9"/>
<line x1="389.5" y1="776.2" x2="669.5" y2="496" stroke="#D3D3D3" stroke-width="1"/>
<polyline points="400.4,765.5 400.4,506.4 659.3,506.4" fill="none" stroke="#FF0000" stroke-width="1.3" stroke-linejoin="round" stroke-linecap="round"/>
<line x1="400.4" y1="775.5" x2="400.4" y2="779.5" stroke="#888" stroke-width="0.9"/>
<text transform="translate(400.4,790.8) scale(1,1.04)" font-size="12.6" text-anchor="middle" fill="#111">0.0</text>
<line x1="385.3" y1="765.5" x2="389.5" y2="765.5" stroke="#888" stroke-width="0.9"/>
<text transform="translate(380.1,765.5) rotate(-90) scale(1,1.04)" font-size="12.6" text-anchor="middle" fill="#111">0.0</text>
<line x1="452.18" y1="775.5" x2="452.18" y2="779.5" stroke="#888" stroke-width="0.9"/>
<text transform="translate(452.18,790.8) scale(1,1.04)" font-size="12.6" text-anchor="middle" fill="#111">0.2</text>
<line x1="385.3" y1="713.68" x2="389.5" y2="713.68" stroke="#888" stroke-width="0.9"/>
<text transform="translate(380.1,713.68) rotate(-90) scale(1,1.04)" font-size="12.6" text-anchor="middle" fill="#111">0.2</text>
<line x1="503.96" y1="775.5" x2="503.96" y2="779.5" stroke="#888" stroke-width="0.9"/>
<text transform="translate(503.96,790.8) scale(1,1.04)" font-size="12.6" text-anchor="middle" fill="#111">0.4</text>
<line x1="385.3" y1="661.86" x2="389.5" y2="661.86" stroke="#888" stroke-width="0.9"/>
<text transform="translate(380.1,661.86) rotate(-90) scale(1,1.04)" font-size="12.6" text-anchor="middle" fill="#111">0.4</text>
<line x1="555.74" y1="775.5" x2="555.74" y2="779.5" stroke="#888" stroke-width="0.9"/>
<text transform="translate(555.74,790.8) scale(1,1.04)" font-size="12.6" text-anchor="middle" fill="#111">0.6</text>
<line x1="385.3" y1="610.04" x2="389.5" y2="610.04" stroke="#888" stroke-width="0.9"/>
<text transform="translate(380.1,610.04) rotate(-90) scale(1,1.04)" font-size="12.6" text-anchor="middle" fill="#111">0.6</text>
<line x1="607.52" y1="775.5" x2="607.52" y2="779.5" stroke="#888" stroke-width="0.9"/>
<text transform="translate(607.52,790.8) scale(1,1.04)" font-size="12.6" text-anchor="middle" fill="#111">0.8</text>
<line x1="385.3" y1="558.22" x2="389.5" y2="558.22" stroke="#888" stroke-width="0.9"/>
<text transform="translate(380.1,558.22) rotate(-90) scale(1,1.04)" font-size="12.6" text-anchor="middle" fill="#111">0.8</text>
<line x1="659.3" y1="775.5" x2="659.3" y2="779.5" stroke="#888" stroke-width="0.9"/>
<text transform="translate(659.3,790.8) scale(1,1.04)" font-size="12.6" text-anchor="middle" fill="#111">1.0</text>
<line x1="385.3" y1="506.4" x2="389.5" y2="506.4" stroke="#888" stroke-width="0.9"/>
<text transform="translate(380.1,506.4) rotate(-90) scale(1,1.04)" font-size="12.6" text-anchor="middle" fill="#111">1.0</text>
<text transform="translate(529.9,802.6) scale(1,1.04)" font-size="13.6" text-anchor="middle" font-weight="bold" fill="#000">1 – Specificity</text>
<text transform="translate(367,635.9) rotate(-90) scale(1,1.04)" font-size="13.5" text-anchor="middle" font-weight="bold" fill="#000">Sensitivity</text>
<text transform="translate(530,641) scale(1,1.04)" font-size="6.8" fill="#FF0000">AUC: 1.000</text>
<line x1="458.89" y1="389.7" x2="665.5" y2="389.7" stroke="#222222" stroke-width="1"/>
<polyline points="506,338.13 506.79,340.56 507.59,343.02 508.38,345.49 509.17,348 509.96,350.53 510.76,353.08 511.55,355.67 512.34,358.27 513.13,360.91 513.93,363.57 514.72,366.26 515.51,368.98 516.31,371.73 517.1,374.51 517.89,377.32 518.68,380.16 519.48,383.03 520.27,385.93 521.06,388.86 521.85,391.82 522.65,394.82 523.44,397.85 524.23,400.92 525.03,404.01 525.82,407.15 526.61,410.32 527.4,413.53 528.2,416.77 528.99,420.05 529.78,423.37" fill="none" stroke="#2E8B2E" stroke-width="1.1" stroke-linejoin="round" stroke-linecap="round"/>
<polyline points="503.2,329.74 503.73,331.32 504.27,332.9 504.8,334.5 504.8,336 506.8,338.4 509.3,337.5 511.4,337.5 515.8,343.6 521.9,352.4 528,361.2 533.3,369.9 535.3,374.5 536.6,379.3 537.4,378.5 539.4,369.9 542.5,357.2 546.4,362 552.5,369.3 557.8,376.2 560.5,380.8 564.4,387.9 568.8,394.9 573.1,401.9 577.5,410.6 582.3,421.2" fill="none" stroke="#2B4C8C" stroke-width="1.1" stroke-linejoin="round" stroke-linecap="round"/>
<polyline points="493.95,303.96 495.09,307 496.24,310.08 497.38,313.2 498.53,316.37 499.67,319.58 500.82,322.83 501.96,326.13 503.11,329.47 504.25,332.87 505.4,336.31 505.4,335.1 507,341.5 508.3,345.5 509.6,347.9 511,348.3 512.3,347.4 515.8,343.2 518.4,338.8 520.5,334.6 522.8,337.5 525.4,346.3 527.1,350 530.6,349.2 535,347.6 538.5,346.1 541.2,350.6 543.8,356.8 544.9,357.9 546.8,355.6 548.6,357.7 550.6,362.6 552.8,367.7 555.5,370 557.9,372.5 560.5,373.6 562.3,376.4 564.4,383.4 565.9,389.3 567.9,395.8 569.6,401.9 571.8,405.3 573.6,403.6 575.8,402.8 577.5,407.1 579.3,413.3 581.5,418.5 583.6,420.5 585.8,419.8 588,416.8 590.2,415 592.4,417.5 595,414.6 599,409.3" fill="none" stroke="#D7191C" stroke-width="1.1" stroke-linejoin="round" stroke-linecap="round"/>
<polyline points="458.89,227.21 459.79,228.86 460.69,230.51 461.59,232.19 462.49,233.87 463.39,235.58 464.29,237.29 465.19,239.03 466.09,240.78 466.99,242.54 467.89,244.32 468.79,246.12 469.69,247.93 470.59,249.76 471.49,251.61 472.39,253.47 473.29,255.36 474.19,257.26 475.09,259.17 475.99,261.11 476.89,263.06 477.79,265.04 478.69,267.03 479.59,269.04 480.49,271.07 481.4,273.12 482.3,275.19 483.2,277.28 484.1,279.4 485,281.53 485.9,283.68 486.8,285.86 487.7,288.06 488.6,290.28 489.5,292.52 490.4,294.79 491.3,297.08 492.2,299.39 493.1,301.73 494,304.1 494.9,306.48 496.1,307.1 498.4,305.3 500.8,303.3 503.7,302.4 506.6,303.3 508.9,305.3 510.7,308.3 512.4,311.8 514.2,315.3 515.9,318.8 517.7,322.6 519.4,327 521.2,331 522.4,334.5 524,340.5 525.5,345.5 527,352.5 528.9,360.5 530.5,365.5 532.2,368.2 534.2,369 536.8,367.3 539,365.5 541.2,368.2 543.8,374.3 546.4,379.5 548.5,382.5 550,384.2 552.6,386.6 555.3,383.4 557.9,375.8 560.5,370.3 563.1,366.3 565.3,365 567.5,367.7 569.3,372.9 571.9,378.6 575.4,381.4 578,382.6 580.6,380.8 584.2,376.4 587.7,372.9 590.3,368.5 593.3,365 595.5,365.9 598.2,371.2 600.8,376 603.4,378.6 605.6,382.1 607.3,388.3 608.4,394 609.5,401.9 610.8,412.4 612.5,421 614.2,425.8 615.8,428.2 617.8,429.9 620,431.3 621.6,431.3 623,430.3 624.3,428.9" fill="none" stroke="#FFC20E" stroke-width="1.1" stroke-linejoin="round" stroke-linecap="round"/>
<line x1="68.3" y1="490" x2="68.3" y2="494.6" stroke="#555" stroke-width="0.6" stroke-opacity="0.40"/>
<line x1="83.4" y1="490" x2="83.4" y2="494.6" stroke="#555" stroke-width="0.6" stroke-opacity="0.40"/>
<line x1="85.1" y1="490" x2="85.1" y2="494.6" stroke="#555" stroke-width="0.6" stroke-opacity="0.40"/>
<line x1="87.5" y1="490" x2="87.5" y2="494.6" stroke="#555" stroke-width="0.6" stroke-opacity="0.40"/>
<line x1="93.3" y1="490" x2="93.3" y2="494.6" stroke="#555" stroke-width="0.6" stroke-opacity="0.40"/>
<line x1="105.4" y1="490" x2="105.4" y2="494.6" stroke="#555" stroke-width="0.6" stroke-opacity="0.40"/>
<line x1="108.1" y1="490" x2="108.1" y2="494.6" stroke="#555" stroke-width="0.6" stroke-opacity="0.40"/>
<line x1="109.2" y1="490" x2="109.2" y2="494.6" stroke="#555" stroke-width="0.6" stroke-opacity="0.40"/>
<line x1="114.3" y1="490" x2="114.3" y2="494.6" stroke="#555" stroke-width="0.6" stroke-opacity="0.40"/>
<line x1="118.9" y1="490" x2="118.9" y2="494.6" stroke="#555" stroke-width="0.6" stroke-opacity="0.40"/>
<line x1="122.5" y1="490" x2="122.5" y2="494.6" stroke="#555" stroke-width="0.6" stroke-opacity="0.40"/>
<line x1="125.6" y1="490" x2="125.6" y2="494.6" stroke="#555" stroke-width="0.6" stroke-opacity="0.40"/>
<line x1="129.2" y1="490" x2="129.2" y2="494.6" stroke="#555" stroke-width="0.6" stroke-opacity="0.40"/>
<line x1="130.7" y1="490" x2="130.7" y2="494.6" stroke="#555" stroke-width="0.6" stroke-opacity="0.40"/>
<line x1="134.8" y1="490" x2="134.8" y2="494.6" stroke="#555" stroke-width="0.6" stroke-opacity="0.40"/>
<line x1="138.9" y1="490" x2="138.9" y2="494.6" stroke="#555" stroke-width="0.6" stroke-opacity="0.40"/>
<line x1="140.4" y1="490" x2="140.4" y2="494.6" stroke="#555" stroke-width="0.6" stroke-opacity="0.40"/>
<line x1="142.5" y1="490" x2="142.5" y2="494.6" stroke="#555" stroke-width="0.6" stroke-opacity="0.40"/>
<line x1="144.5" y1="490" x2="144.5" y2="494.6" stroke="#555" stroke-width="0.6" stroke-opacity="0.40"/>
<line x1="146.6" y1="490" x2="146.6" y2="494.6" stroke="#555" stroke-width="0.6" stroke-opacity="0.40"/>
<line x1="148.6" y1="490" x2="148.6" y2="494.6" stroke="#555" stroke-width="0.6" stroke-opacity="0.40"/>
<line x1="150.7" y1="490" x2="150.7" y2="494.6" stroke="#555" stroke-width="0.6" stroke-opacity="0.40"/>
<line x1="152.2" y1="490" x2="152.2" y2="494.6" stroke="#555" stroke-width="0.6" stroke-opacity="0.40"/>
<line x1="155.3" y1="490" x2="155.3" y2="494.6" stroke="#555" stroke-width="0.6" stroke-opacity="0.40"/>
<line x1="157.8" y1="490" x2="157.8" y2="494.6" stroke="#555" stroke-width="0.6" stroke-opacity="0.40"/>
<line x1="159.3" y1="490" x2="159.3" y2="494.6" stroke="#555" stroke-width="0.6" stroke-opacity="0.40"/>
<line x1="160.9" y1="490" x2="160.9" y2="494.6" stroke="#555" stroke-width="0.6" stroke-opacity="0.40"/>
<line x1="165" y1="490" x2="165" y2="494.6" stroke="#555" stroke-width="0.6" stroke-opacity="0.40"/>
<line x1="166.5" y1="490" x2="166.5" y2="494.6" stroke="#555" stroke-width="0.6" stroke-opacity="0.40"/>
<line x1="168" y1="490" x2="168" y2="494.6" stroke="#555" stroke-width="0.6" stroke-opacity="0.40"/>
<line x1="170.1" y1="490" x2="170.1" y2="494.6" stroke="#555" stroke-width="0.6" stroke-opacity="0.40"/>
<line x1="172.1" y1="490" x2="172.1" y2="494.6" stroke="#555" stroke-width="0.6" stroke-opacity="0.40"/>
<line x1="175.7" y1="490" x2="175.7" y2="494.6" stroke="#555" stroke-width="0.6" stroke-opacity="0.40"/>
<line x1="177.7" y1="490" x2="177.7" y2="494.6" stroke="#555" stroke-width="0.6" stroke-opacity="0.40"/>
<line x1="179.3" y1="490" x2="179.3" y2="494.6" stroke="#555" stroke-width="0.6" stroke-opacity="0.40"/>
<line x1="181.3" y1="490" x2="181.3" y2="494.6" stroke="#555" stroke-width="0.6" stroke-opacity="0.40"/>
<line x1="183.4" y1="490" x2="183.4" y2="494.6" stroke="#555" stroke-width="0.6" stroke-opacity="0.40"/>
<line x1="185.4" y1="490" x2="185.4" y2="494.6" stroke="#555" stroke-width="0.6" stroke-opacity="0.40"/>
<line x1="186.9" y1="490" x2="186.9" y2="494.6" stroke="#555" stroke-width="0.6" stroke-opacity="0.55"/>
<line x1="188.5" y1="490" x2="188.5" y2="494.6" stroke="#555" stroke-width="0.6" stroke-opacity="0.55"/>
<line x1="189.07" y1="490" x2="189.07" y2="494.6" stroke="#555" stroke-width="0.6" stroke-opacity="0.55"/>
<line x1="191.11" y1="490" x2="191.11" y2="494.6" stroke="#555" stroke-width="0.6" stroke-opacity="0.55"/>
<line x1="193.15" y1="490" x2="193.15" y2="494.6" stroke="#555" stroke-width="0.6" stroke-opacity="0.55"/>
<line x1="194.69" y1="490" x2="194.69" y2="494.6" stroke="#555" stroke-width="0.6" stroke-opacity="0.55"/>
<line x1="196.22" y1="490" x2="196.22" y2="494.6" stroke="#555" stroke-width="0.6" stroke-opacity="0.55"/>
<line x1="198.77" y1="490" x2="198.77" y2="494.6" stroke="#555" stroke-width="0.6" stroke-opacity="0.55"/>
<line x1="201.33" y1="490" x2="201.33" y2="494.6" stroke="#555" stroke-width="0.6" stroke-opacity="0.55"/>
<line x1="203.37" y1="490" x2="203.37" y2="494.6" stroke="#555" stroke-width="0.6" stroke-opacity="0.55"/>
<line x1="205.93" y1="490" x2="205.93" y2="494.6" stroke="#555" stroke-width="0.6" stroke-opacity="0.55"/>
<line x1="207.97" y1="490" x2="207.97" y2="494.6" stroke="#555" stroke-width="0.6" stroke-opacity="0.55"/>
<line x1="209.5" y1="490" x2="209.5" y2="494.6" stroke="#555" stroke-width="0.6" stroke-opacity="0.55"/>
<line x1="211.55" y1="490" x2="211.55" y2="494.6" stroke="#555" stroke-width="0.6" stroke-opacity="0.55"/>
<line x1="213.08" y1="490" x2="213.08" y2="494.6" stroke="#555" stroke-width="0.6" stroke-opacity="0.55"/>
<line x1="215.12" y1="490" x2="215.12" y2="494.6" stroke="#555" stroke-width="0.6" stroke-opacity="0.55"/>
<line x1="216.66" y1="490" x2="216.66" y2="494.6" stroke="#555" stroke-width="0.6" stroke-opacity="0.55"/>
<line x1="218.7" y1="490" x2="218.7" y2="494.6" stroke="#555" stroke-width="0.6" stroke-opacity="0.55"/>
<line x1="220.23" y1="490" x2="220.23" y2="494.6" stroke="#555" stroke-width="0.6" stroke-opacity="0.55"/>
<line x1="222.79" y1="490" x2="222.79" y2="494.6" stroke="#555" stroke-width="0.6" stroke-opacity="0.55"/>
<line x1="224.83" y1="490" x2="224.83" y2="494.6" stroke="#555" stroke-width="0.6" stroke-opacity="0.55"/>
<line x1="226.36" y1="490" x2="226.36" y2="494.6" stroke="#555" stroke-width="0.6" stroke-opacity="0.55"/>
<line x1="228.41" y1="490" x2="228.41" y2="494.6" stroke="#555" stroke-width="0.6" stroke-opacity="0.55"/>
<line x1="229.94" y1="490" x2="229.94" y2="494.6" stroke="#555" stroke-width="0.6" stroke-opacity="0.55"/>
<line x1="231.98" y1="490" x2="231.98" y2="494.6" stroke="#555" stroke-width="0.6" stroke-opacity="0.55"/>
<line x1="234.03" y1="490" x2="234.03" y2="494.6" stroke="#555" stroke-width="0.6" stroke-opacity="0.55"/>
<line x1="237.09" y1="490" x2="237.09" y2="494.6" stroke="#555" stroke-width="0.6" stroke-opacity="0.55"/>
<line x1="238.63" y1="490" x2="238.63" y2="494.6" stroke="#555" stroke-width="0.6" stroke-opacity="0.55"/>
<line x1="240.67" y1="490" x2="240.67" y2="494.6" stroke="#555" stroke-width="0.6" stroke-opacity="0.55"/>
<line x1="242.71" y1="490" x2="242.71" y2="494.6" stroke="#555" stroke-width="0.6" stroke-opacity="0.55"/>
<line x1="244.25" y1="490" x2="244.25" y2="494.6" stroke="#555" stroke-width="0.6" stroke-opacity="0.55"/>
<line x1="246.29" y1="490" x2="246.29" y2="494.6" stroke="#555" stroke-width="0.6" stroke-opacity="0.55"/>
<line x1="248.33" y1="490" x2="248.33" y2="494.6" stroke="#555" stroke-width="0.6" stroke-opacity="0.55"/>
<line x1="251.4" y1="490" x2="251.4" y2="494.6" stroke="#555" stroke-width="0.6" stroke-opacity="0.60"/>
<line x1="250.8" y1="490" x2="250.8" y2="494.6" stroke="#555" stroke-width="0.6" stroke-opacity="0.60"/>
<line x1="251.55" y1="490" x2="251.55" y2="494.6" stroke="#555" stroke-width="0.6" stroke-opacity="0.60"/>
<line x1="252.3" y1="490" x2="252.3" y2="494.6" stroke="#555" stroke-width="0.6" stroke-opacity="0.60"/>
<line x1="253.05" y1="490" x2="253.05" y2="494.6" stroke="#555" stroke-width="0.6" stroke-opacity="0.60"/>
<line x1="253.8" y1="490" x2="253.8" y2="494.6" stroke="#555" stroke-width="0.6" stroke-opacity="0.60"/>
<line x1="254.55" y1="490" x2="254.55" y2="494.6" stroke="#555" stroke-width="0.6" stroke-opacity="0.60"/>
<line x1="255.3" y1="490" x2="255.3" y2="494.6" stroke="#555" stroke-width="0.6" stroke-opacity="0.60"/>
<line x1="256.05" y1="490" x2="256.05" y2="494.6" stroke="#555" stroke-width="0.6" stroke-opacity="0.60"/>
<line x1="256.8" y1="490" x2="256.8" y2="494.6" stroke="#555" stroke-width="0.6" stroke-opacity="0.60"/>
<line x1="257.55" y1="490" x2="257.55" y2="494.6" stroke="#555" stroke-width="0.6" stroke-opacity="0.60"/>
<line x1="258.3" y1="490" x2="258.3" y2="494.6" stroke="#555" stroke-width="0.6" stroke-opacity="0.60"/>
<line x1="259.05" y1="490" x2="259.05" y2="494.6" stroke="#555" stroke-width="0.6" stroke-opacity="0.60"/>
<line x1="259.8" y1="490" x2="259.8" y2="494.6" stroke="#555" stroke-width="0.6" stroke-opacity="0.60"/>
<line x1="260.55" y1="490" x2="260.55" y2="494.6" stroke="#555" stroke-width="0.6" stroke-opacity="0.60"/>
<line x1="261.3" y1="490" x2="261.3" y2="494.6" stroke="#555" stroke-width="0.6" stroke-opacity="0.60"/>
<line x1="262.05" y1="490" x2="262.05" y2="494.6" stroke="#555" stroke-width="0.6" stroke-opacity="0.60"/>
<line x1="262.8" y1="490" x2="262.8" y2="494.6" stroke="#555" stroke-width="0.6" stroke-opacity="0.60"/>
<line x1="263.55" y1="490" x2="263.55" y2="494.6" stroke="#555" stroke-width="0.6" stroke-opacity="0.60"/>
<line x1="264.3" y1="490" x2="264.3" y2="494.6" stroke="#555" stroke-width="0.6" stroke-opacity="0.60"/>
<line x1="265.05" y1="490" x2="265.05" y2="494.6" stroke="#555" stroke-width="0.6" stroke-opacity="0.60"/>
<line x1="265.8" y1="490" x2="265.8" y2="494.6" stroke="#555" stroke-width="0.6" stroke-opacity="0.60"/>
<line x1="266.55" y1="490" x2="266.55" y2="494.6" stroke="#555" stroke-width="0.6" stroke-opacity="0.60"/>
<line x1="267.3" y1="490" x2="267.3" y2="494.6" stroke="#555" stroke-width="0.6" stroke-opacity="0.60"/>
<line x1="268.05" y1="490" x2="268.05" y2="494.6" stroke="#555" stroke-width="0.6" stroke-opacity="0.60"/>
<line x1="268.8" y1="490" x2="268.8" y2="494.6" stroke="#555" stroke-width="0.6" stroke-opacity="0.60"/>
<line x1="269.55" y1="490" x2="269.55" y2="494.6" stroke="#555" stroke-width="0.6" stroke-opacity="0.60"/>
<line x1="272.1" y1="490" x2="272.1" y2="494.6" stroke="#555" stroke-width="0.6" stroke-opacity="0.70"/>
<line x1="274.5" y1="490" x2="274.5" y2="494.6" stroke="#555" stroke-width="0.6" stroke-opacity="0.70"/>
<line x1="275.5" y1="490" x2="275.5" y2="494.6" stroke="#555" stroke-width="0.6" stroke-opacity="0.70"/>
<line x1="276.5" y1="490" x2="276.5" y2="494.6" stroke="#555" stroke-width="0.6" stroke-opacity="0.70"/>
<line x1="277.6" y1="490" x2="277.6" y2="494.6" stroke="#555" stroke-width="0.6" stroke-opacity="0.70"/>
<line x1="278.6" y1="490" x2="278.6" y2="494.6" stroke="#555" stroke-width="0.6" stroke-opacity="0.70"/>
<line x1="281.1" y1="490" x2="281.1" y2="494.6" stroke="#555" stroke-width="0.6" stroke-opacity="0.70"/>
<line x1="283.5" y1="490" x2="283.5" y2="494.6" stroke="#555" stroke-width="0.6" stroke-opacity="0.70"/>
<line x1="286" y1="490" x2="286" y2="494.6" stroke="#555" stroke-width="0.6" stroke-opacity="0.70"/>
<line x1="286.8" y1="490" x2="286.8" y2="494.6" stroke="#555" stroke-width="0.6" stroke-opacity="0.70"/>
<line x1="287.6" y1="490" x2="287.6" y2="494.6" stroke="#555" stroke-width="0.6" stroke-opacity="0.70"/>
<line x1="290" y1="490" x2="290" y2="494.6" stroke="#555" stroke-width="0.6" stroke-opacity="0.70"/>
<line x1="291.7" y1="490" x2="291.7" y2="494.6" stroke="#555" stroke-width="0.6" stroke-opacity="0.60"/>
<line x1="292.45" y1="490" x2="292.45" y2="494.6" stroke="#555" stroke-width="0.6" stroke-opacity="0.60"/>
<line x1="293.2" y1="490" x2="293.2" y2="494.6" stroke="#555" stroke-width="0.6" stroke-opacity="0.60"/>
<line x1="293.95" y1="490" x2="293.95" y2="494.6" stroke="#555" stroke-width="0.6" stroke-opacity="0.60"/>
<line x1="294.7" y1="490" x2="294.7" y2="494.6" stroke="#555" stroke-width="0.6" stroke-opacity="0.60"/>
<line x1="295.45" y1="490" x2="295.45" y2="494.6" stroke="#555" stroke-width="0.6" stroke-opacity="0.60"/>
<line x1="296.2" y1="490" x2="296.2" y2="494.6" stroke="#555" stroke-width="0.6" stroke-opacity="0.60"/>
<line x1="296.95" y1="490" x2="296.95" y2="494.6" stroke="#555" stroke-width="0.6" stroke-opacity="0.60"/>
<line x1="297.7" y1="490" x2="297.7" y2="494.6" stroke="#555" stroke-width="0.6" stroke-opacity="0.60"/>
<line x1="298.45" y1="490" x2="298.45" y2="494.6" stroke="#555" stroke-width="0.6" stroke-opacity="0.60"/>
<line x1="299.2" y1="490" x2="299.2" y2="494.6" stroke="#555" stroke-width="0.6" stroke-opacity="0.60"/>
<line x1="299.95" y1="490" x2="299.95" y2="494.6" stroke="#555" stroke-width="0.6" stroke-opacity="0.60"/>
<line x1="300.7" y1="490" x2="300.7" y2="494.6" stroke="#555" stroke-width="0.6" stroke-opacity="0.60"/>
<line x1="301.5" y1="490" x2="301.5" y2="494.6" stroke="#555" stroke-width="0.6" stroke-opacity="0.70"/>
<line x1="152.5" y1="599.5" x2="152.5" y2="698.8" stroke="#3CB44B" stroke-width="1.35"/>
<line x1="150" y1="599.5" x2="155" y2="599.5" stroke="#3CB44B" stroke-width="1.2"/>
<line x1="150" y1="698.8" x2="155" y2="698.8" stroke="#3CB44B" stroke-width="1.2"/>
<line x1="231.7" y1="540.6" x2="231.7" y2="608.3" stroke="#3CB44B" stroke-width="1.35"/>
<line x1="229.2" y1="540.6" x2="234.2" y2="540.6" stroke="#3CB44B" stroke-width="1.2"/>
<line x1="229.2" y1="608.3" x2="234.2" y2="608.3" stroke="#3CB44B" stroke-width="1.2"/>
<line x1="264.4" y1="500.1" x2="264.4" y2="558.5" stroke="#3CB44B" stroke-width="1.35"/>
<line x1="261.9" y1="500.1" x2="266.9" y2="500.1" stroke="#3CB44B" stroke-width="1.2"/>
<line x1="261.9" y1="558.5" x2="266.9" y2="558.5" stroke="#3CB44B" stroke-width="1.2"/>
<line x1="182.5" y1="578.1" x2="182.5" y2="651.3" stroke="#C8364A" stroke-width="1.3"/>
<line x1="180" y1="578.1" x2="185" y2="578.1" stroke="#C8364A" stroke-width="1.2"/>
<line x1="180" y1="651.3" x2="185" y2="651.3" stroke="#C8364A" stroke-width="1.2"/>
<line x1="253.3" y1="540.6" x2="253.3" y2="608.5" stroke="#C8364A" stroke-width="1.3"/>
<line x1="250.8" y1="540.6" x2="255.8" y2="540.6" stroke="#C8364A" stroke-width="1.2"/>
<line x1="250.8" y1="608.5" x2="255.8" y2="608.5" stroke="#C8364A" stroke-width="1.2"/>
<line x1="278.7" y1="499.5" x2="278.7" y2="537.2" stroke="#C8364A" stroke-width="1.3"/>
<line x1="276.2" y1="499.5" x2="281.2" y2="499.5" stroke="#C8364A" stroke-width="1.2"/>
<line x1="276.2" y1="537.2" x2="281.2" y2="537.2" stroke="#C8364A" stroke-width="1.2"/>
<line x1="237" y1="546.5" x2="237" y2="607.8" stroke="#6C9BD2" stroke-width="1.5"/>
<line x1="234.5" y1="546.5" x2="239.5" y2="546.5" stroke="#6C9BD2" stroke-width="1.2"/>
<line x1="234.5" y1="607.8" x2="239.5" y2="607.8" stroke="#6C9BD2" stroke-width="1.2"/>
<line x1="283.8" y1="516.6" x2="283.8" y2="565.3" stroke="#6C9BD2" stroke-width="1.5"/>
<line x1="281.3" y1="516.6" x2="286.3" y2="516.6" stroke="#6C9BD2" stroke-width="1.2"/>
<line x1="281.3" y1="565.3" x2="286.3" y2="565.3" stroke="#6C9BD2" stroke-width="1.2"/>
<line x1="298.2" y1="499.3" x2="298.2" y2="511.3" stroke="#6C9BD2" stroke-width="1.5"/>
<line x1="295.7" y1="499.3" x2="300.7" y2="499.3" stroke="#6C9BD2" stroke-width="1.2"/>
<line x1="295.7" y1="511.3" x2="300.7" y2="511.3" stroke="#6C9BD2" stroke-width="1.2"/>
<line x1="155.06" y1="661.89" x2="229.14" y2="580.81" stroke="#3CB44B" stroke-width="0.75"/>
<line x1="233.88" y1="574.89" x2="262.22" y2="534.51" stroke="#3CB44B" stroke-width="0.75"/>
<line x1="185.76" y1="618.25" x2="250.04" y2="579.85" stroke="#C8364A" stroke-width="0.75"/>
<line x1="254.81" y1="574.41" x2="277.19" y2="522.89" stroke="#C8364A" stroke-width="0.75"/>
<line x1="239.97" y1="577.62" x2="280.83" y2="544.88" stroke="#3A7DC8" stroke-width="0.75"/>
<line x1="285.12" y1="538.94" x2="296.88" y2="507.16" stroke="#3A7DC8" stroke-width="0.75"/>
<circle cx="152.5" cy="664.7" r="1.8" fill="#0A9A0A"/>
<line x1="150.9" y1="654" x2="154.1" y2="657.2" stroke="#4040FF" stroke-width="0.8"/>
<line x1="150.9" y1="657.2" x2="154.1" y2="654" stroke="#4040FF" stroke-width="0.8"/>
<circle cx="231.7" cy="578" r="1.8" fill="#0A9A0A"/>
<line x1="230.1" y1="579.5" x2="233.3" y2="582.7" stroke="#4040FF" stroke-width="0.8"/>
<line x1="230.1" y1="582.7" x2="233.3" y2="579.5" stroke="#4040FF" stroke-width="0.8"/>
<circle cx="264.4" cy="531.4" r="1.8" fill="#0A9A0A"/>
<line x1="262.8" y1="535.3" x2="266" y2="538.5" stroke="#4040FF" stroke-width="0.8"/>
<line x1="262.8" y1="538.5" x2="266" y2="535.3" stroke="#4040FF" stroke-width="0.8"/>
<circle cx="182.5" cy="620.2" r="1.8" fill="#B0102A"/>
<line x1="180.9" y1="616.2" x2="184.1" y2="619.4" stroke="#4040FF" stroke-width="0.8"/>
<line x1="180.9" y1="619.4" x2="184.1" y2="616.2" stroke="#4040FF" stroke-width="0.8"/>
<circle cx="253.3" cy="577.9" r="1.8" fill="#B0102A"/>
<line x1="251.7" y1="579.2" x2="254.9" y2="582.4" stroke="#4040FF" stroke-width="0.8"/>
<line x1="251.7" y1="582.4" x2="254.9" y2="579.2" stroke="#4040FF" stroke-width="0.8"/>
<circle cx="278.7" cy="519.4" r="1.8" fill="#B0102A"/>
<line x1="277.1" y1="521.4" x2="280.3" y2="524.6" stroke="#4040FF" stroke-width="0.8"/>
<line x1="277.1" y1="524.6" x2="280.3" y2="521.4" stroke="#4040FF" stroke-width="0.8"/>
<circle cx="237" cy="580" r="1.8" fill="#1F5FB0"/>
<line x1="235.4" y1="576.3" x2="238.6" y2="579.5" stroke="#4040FF" stroke-width="0.8"/>
<line x1="235.4" y1="579.5" x2="238.6" y2="576.3" stroke="#4040FF" stroke-width="0.8"/>
<circle cx="283.8" cy="542.5" r="1.8" fill="#1F5FB0"/>
<line x1="282.2" y1="543" x2="285.4" y2="546.2" stroke="#4040FF" stroke-width="0.8"/>
<line x1="282.2" y1="546.2" x2="285.4" y2="543" stroke="#4040FF" stroke-width="0.8"/>
<circle cx="298.2" cy="503.6" r="1.8" fill="#1F5FB0"/>
<line x1="296.6" y1="504.3" x2="299.8" y2="507.5" stroke="#4040FF" stroke-width="0.8"/>
<line x1="296.6" y1="507.5" x2="299.8" y2="504.3" stroke="#4040FF" stroke-width="0.8"/>
</svg></body></html>
